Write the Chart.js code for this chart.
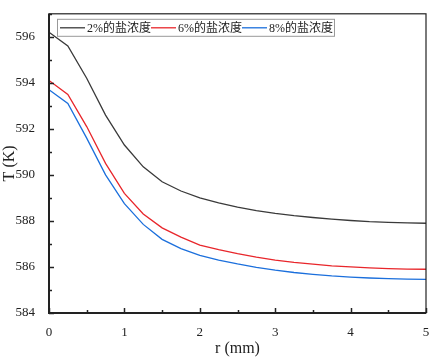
<!DOCTYPE html>
<html>
<head>
<meta charset="utf-8">
<script src="https://cdn.jsdelivr.net/npm/chart.js@4"></script>
<style>
  html, body { margin: 0; padding: 0; background: #fff; }
  #wrap { width: 434px; height: 359px; }
</style>
</head>
<body>
<div id="wrap"><canvas id="tempcanvas" width="434" height="359"></canvas></div>
<script>
// data
let rValues = [0, 0.25, 0.5, 0.75, 1, 1.25, 1.5, 1.75, 2, 2.25, 2.5, 2.75, 3, 3.25, 3.5, 3.75, 4, 4.25, 4.5, 4.75, 5];
let salt2 = [596.2, 595.6, 594.2, 592.6, 591.3, 590.35, 589.7, 589.3, 589.0, 588.78, 588.6, 588.45, 588.33, 588.23, 588.15, 588.08, 588.02, 587.97, 587.94, 587.92, 587.9];
let salt6 = [594.1, 593.5, 592.1, 590.5, 589.2, 588.3, 587.7, 587.3, 586.95, 586.75, 586.58, 586.43, 586.3, 586.2, 586.12, 586.05, 586.0, 585.96, 585.93, 585.91, 585.9];
let salt8 = [593.7, 593.1, 591.6, 590.0, 588.75, 587.85, 587.2, 586.8, 586.5, 586.3, 586.13, 585.98, 585.86, 585.76, 585.68, 585.61, 585.56, 585.52, 585.49, 585.47, 585.46];
let seriesNames = ["2%的盐浓度", "6%的盐浓度", "8%的盐浓度"];
let seriesColors = ["#3a3a3a", "#e8262b", "#1b6fdc"];
let xTickLabels = [0, 1, 2, 3, 4, 5];
let yTickLabels = [584, 586, 588, 590, 592, 594, 596];

const fontFam = "'Liberation Serif', 'Times New Roman', 'Noto Sans CJK SC', serif";

function toPoints(ys) {
    return rValues.map(function(r, i) { return { x: r, y: ys[i] }; });
}

// frame, inward ticks and legend box
const framePlugin = {
    id: 'framePlugin',
    afterDraw: function(chart) {
        let ctx = chart.ctx;
        let a = chart.chartArea;
        let xs = chart.scales.x;
        let ys = chart.scales.y;
        ctx.save();
        ctx.strokeStyle = '#222';
        ctx.lineWidth = 1.2;
        ctx.strokeRect(a.left, a.top, a.right - a.left, a.bottom - a.top);
        ctx.lineWidth = 2;
        ctx.beginPath();
        ctx.moveTo(a.left, a.top);
        ctx.lineTo(a.left, a.bottom);
        ctx.lineTo(a.right, a.bottom);
        ctx.stroke();
        ctx.lineWidth = 1.5;
        for (let v = 0; v <= 5.001; v += 0.5) {
            let px = Math.round(xs.getPixelForValue(v)) + 0.5;
            let len = Number.isInteger(v) ? 5 : 3;
            ctx.beginPath();
            ctx.moveTo(px, a.bottom);
            ctx.lineTo(px, a.bottom - len);
            ctx.stroke();
        }
        for (let v = 584; v <= 597; v += 1) {
            let py = Math.round(ys.getPixelForValue(v)) + 0.5;
            let len = (v % 2 === 0) ? 5 : 3;
            ctx.beginPath();
            ctx.moveTo(a.left, py);
            ctx.lineTo(a.left + len, py);
            ctx.stroke();
        }

        // legend
        let lx = a.left + 8, ly = a.top + 5, lh = 17;
        ctx.font = "12px " + fontFam;
        let segLen = 25;
        let totalW = 3;
        let widths = seriesNames.map(function(n) { return ctx.measureText(n).width; });
        widths.forEach(function(w) { totalW += segLen + 2 + w; });
        ctx.fillStyle = '#fff';
        ctx.fillRect(lx, ly, totalW + 1, lh);
        ctx.strokeStyle = '#999';
        ctx.lineWidth = 1;
        ctx.strokeRect(lx + 0.5, ly + 0.5, totalW + 1, lh);
        let cx = lx + 3;
        let cy = ly + lh / 2 + 0.5;
        ctx.textBaseline = 'middle';
        seriesNames.forEach(function(name, i) {
            ctx.strokeStyle = seriesColors[i];
            ctx.lineWidth = 1.3;
            ctx.beginPath();
            ctx.moveTo(cx, cy);
            ctx.lineTo(cx + segLen, cy);
            ctx.stroke();
            cx += segLen + 2;
            ctx.fillStyle = '#222';
            ctx.fillText(name, cx, cy + 1);
            cx += widths[i];
        });
        ctx.restore();
    }
};

let tempChart = new Chart(document.getElementById('tempcanvas').getContext('2d'), {
    type: 'line',
    data: {
        datasets: [0, 1, 2].map(function(i) {
            return {
                label: seriesNames[i],
                data: toPoints([salt2, salt6, salt8][i]),
                borderColor: seriesColors[i],
                borderWidth: 1.3,
                pointRadius: 0,
                tension: 0,
                fill: false
            };
        })
    },
    options: {
        responsive: false,
        animation: false,
        layout: { padding: { top: 5, right: 8, left: 0, bottom: 0 } },
        plugins: {
            legend: { display: false },
            tooltip: { enabled: false }
        },
        scales: {
            x: {
                type: 'linear',
                min: 0,
                max: 5,
                grid: { display: false },
                border: { display: false },
                afterBuildTicks: function(scale) {
                    scale.ticks = xTickLabels.map(function(v) { return { value: v }; });
                },
                ticks: {
                    padding: 4,
                    color: '#222',
                    font: { family: fontFam, size: 13 },
                    maxRotation: 0,
                    callback: function(v) { return v; }
                },
                title: {
                    display: true,
                    text: 'r (mm)',
                    color: '#222',
                    font: { family: fontFam, size: 16 },
                    padding: { top: 1, bottom: 1 }
                },
                afterFit: function(scale) { scale.height = 46; }
            },
            y: {
                min: 584,
                max: 597,
                grid: { display: false },
                border: { display: false },
                afterBuildTicks: function(scale) {
                    scale.ticks = yTickLabels.map(function(v) { return { value: v }; });
                },
                ticks: {
                    padding: 6,
                    color: '#222',
                    font: { family: fontFam, size: 13 },
                    callback: function(v) { return v; }
                },
                title: {
                    display: true,
                    text: 'T (K)',
                    color: '#222',
                    font: { family: fontFam, size: 16 },
                    padding: { top: 0, bottom: 1 }
                },
                afterFit: function(scale) { scale.width = 49; }
            }
        }
    },
    plugins: [framePlugin]
});
</script>
</body>
</html>
